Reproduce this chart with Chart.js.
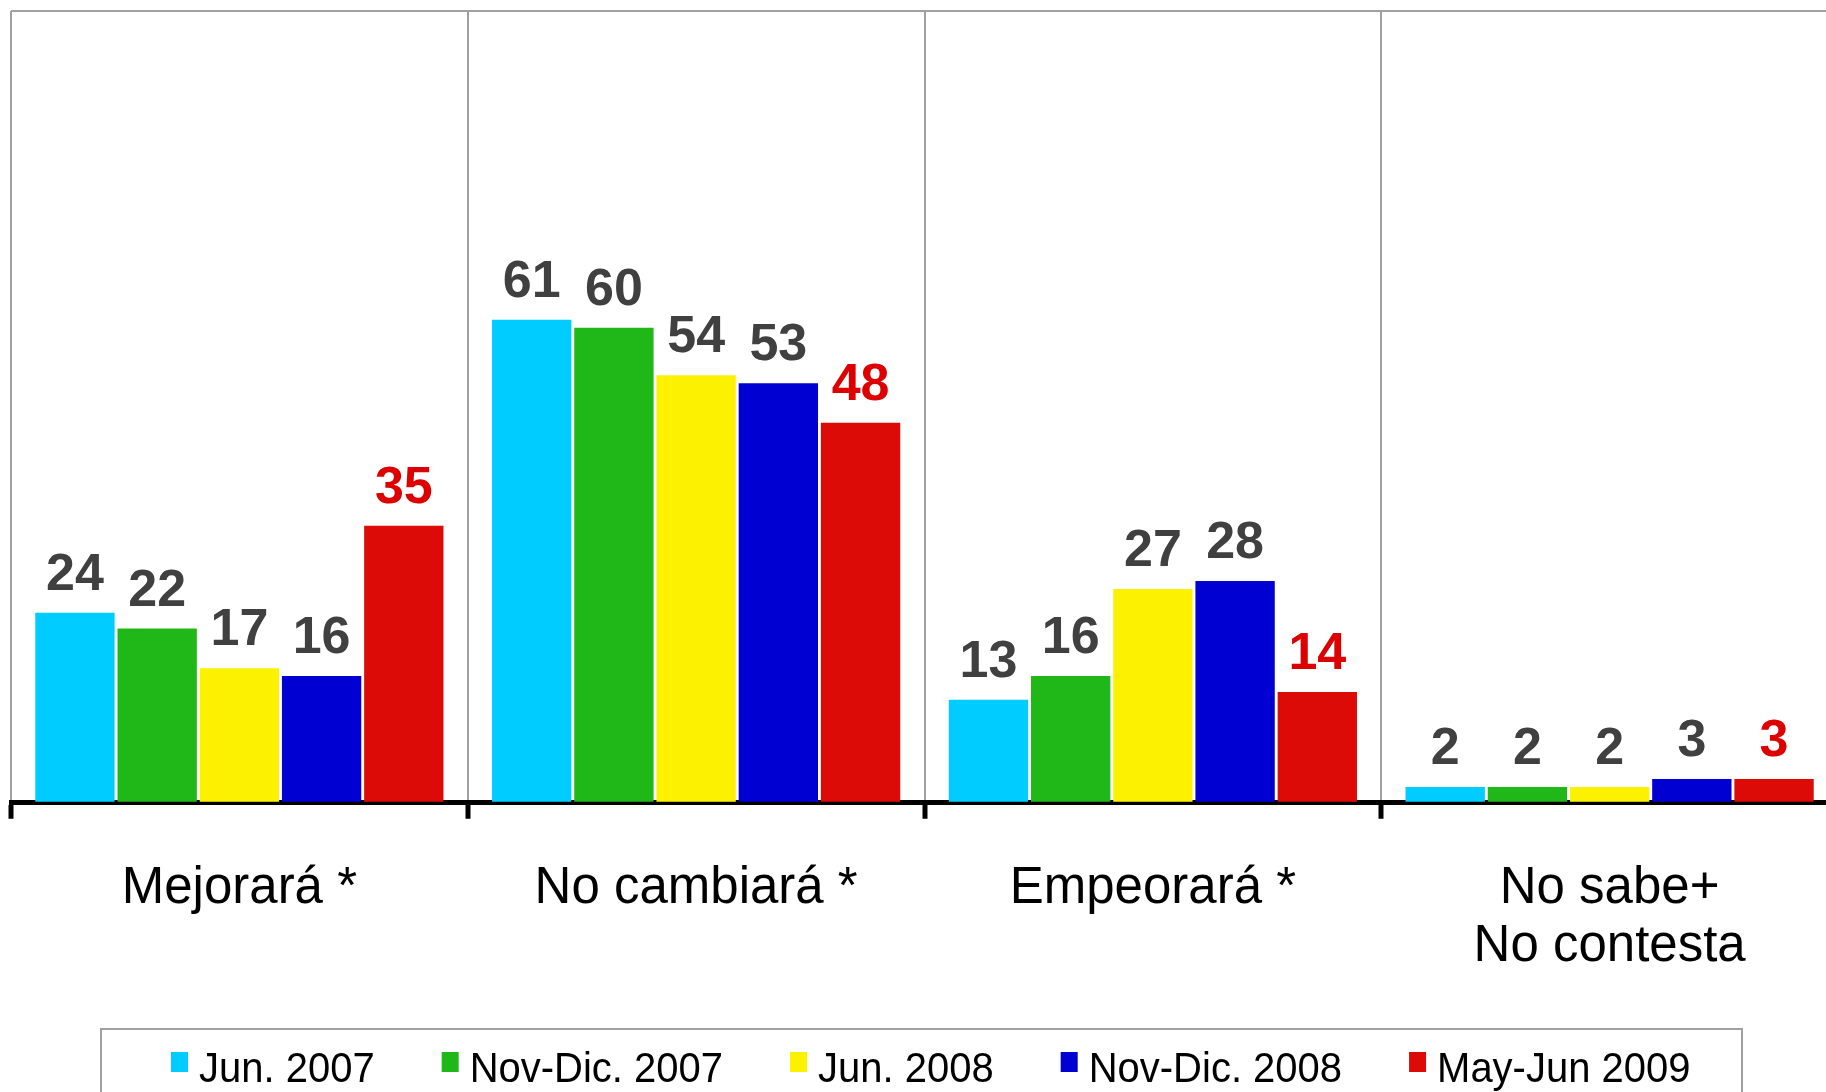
<!DOCTYPE html>
<html>
<head>
<meta charset="utf-8">
<script src="https://cdn.jsdelivr.net/npm/chart.js@4/dist/chart.umd.min.js"></script>
<style>
  html, body { margin: 0; padding: 0; background: #fff; overflow: hidden; }
  #wrap { position: relative; width: 1850px; height: 1092px; }
</style>
</head>
<body>
<div id="wrap"><canvas id="c"></canvas></div>
<script>
// ---- data ----
const categories = ['Mejorará *', 'No cambiará *', 'Empeorará *', ['No sabe+', 'No contesta']];
const seriesNames = ['Jun. 2007', 'Nov-Dic. 2007', 'Jun. 2008', 'Nov-Dic. 2008', 'May-Jun 2009'];
const jun2007    = [24, 61, 13, 2];
const novDic2007 = [22, 60, 16, 2];
const jun2008    = [17, 54, 27, 2];
const novDic2008 = [16, 53, 28, 3];
const mayJun2009 = [35, 48, 14, 3];
const yMin = 0, yMax = 100;

const seriesValues = [jun2007, novDic2007, jun2008, novDic2008, mayJun2009];
const seriesColors = ['#00CCFF', '#20B818', '#FCF200', '#0000D2', '#DD0B07'];
const labelColors  = ['#404040', '#404040', '#404040', '#404040', '#DD0000'];

const FONT = '"Liberation Sans", Arial, sans-serif';

// value labels above bars
const valueLabels = {
  id: 'valueLabels',
  afterDatasetsDraw(chart) {
    const ctx = chart.ctx;
    ctx.save();
    ctx.font = 'bold 52px ' + FONT;
    ctx.textAlign = 'center';
    ctx.textBaseline = 'alphabetic';
    chart.data.datasets.forEach((ds, i) => {
      const meta = chart.getDatasetMeta(i);
      ctx.fillStyle = ds.labelColor;
      meta.data.forEach((bar, j) => {
        ctx.fillText(String(ds.data[j]), bar.x, bar.y - 23);
      });
    });
    ctx.restore();
  }
};

// boxed legend at the bottom, text slightly condensed
const boxLegend = {
  id: 'boxLegend',
  afterDraw(chart) {
    const ctx = chart.ctx;
    ctx.save();
    ctx.strokeStyle = '#A0A0A0';
    ctx.lineWidth = 2;
    ctx.strokeRect(101, 1029, 1641, 200);
    ctx.font = '43px ' + FONT;
    ctx.textBaseline = 'alphabetic';
    ctx.textAlign = 'left';
    const sx = 0.93;
    let x = 171;
    chart.data.datasets.forEach((ds) => {
      ctx.fillStyle = ds.backgroundColor;
      ctx.fillRect(x, 1052, 17, 20);
      x += 17 + 11;
      ctx.fillStyle = '#000';
      ctx.save();
      ctx.translate(x, 1082);
      ctx.scale(sx, 1);
      ctx.fillText(ds.label, 0, 0);
      ctx.restore();
      x += ctx.measureText(ds.label).width * sx + 67;
    });
    ctx.restore();
  }
};

const datasets = seriesNames.map((name, i) => ({
  label: name,
  data: seriesValues[i],
  backgroundColor: seriesColors[i],
  borderWidth: 0,
  labelColor: labelColors[i],
  categoryPercentage: 0.9,
  barPercentage: 0.965
}));

new Chart(document.getElementById('c'), {
  type: 'bar',
  data: { labels: categories, datasets },
  options: {
    responsive: true,
    maintainAspectRatio: false,
    animation: false,
    layout: { padding: { left: 11, right: 12, top: 11, bottom: 75 } },
    plugins: { legend: { display: false }, tooltip: { enabled: false } },
    scales: {
      x: {
        z: 1,
        offset: true,
        grid: {
          offset: true,
          color: '#A0A0A0',
          lineWidth: 2,
          drawTicks: true,
          tickLength: 16,
          tickColor: '#000',
          tickWidth: 5
        },
        border: { display: true, color: '#000', width: 5 },
        ticks: {
          color: '#000',
          padding: 42,
          maxRotation: 0,
          autoSkip: false,
          font: { family: FONT, size: 51, lineHeight: 1.12 }
        }
      },
      y: {
        min: yMin,
        max: yMax,
        grid: {
          drawTicks: false,
          lineWidth: 2,
          color: (c) => (c.tick && c.tick.value === yMax ? '#A0A0A0' : 'rgba(0,0,0,0)')
        },
        border: { display: false },
        ticks: { display: false, stepSize: 100 }
      }
    }
  },
  plugins: [valueLabels, boxLegend]
});
</script>
</body>
</html>
